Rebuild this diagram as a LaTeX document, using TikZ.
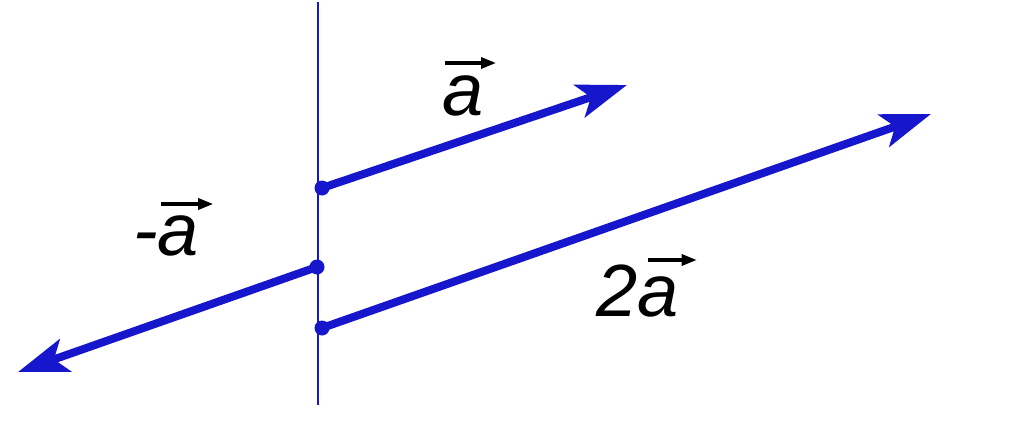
\documentclass[tikz,border=0pt]{standalone}
\usepackage{fontspec}
\setmainfont{Liberation Sans}
\usetikzlibrary{arrows.meta}
\definecolor{vblue}{RGB}{22,22,204}
\begin{document}
\begin{tikzpicture}[x=1pt,y=-1pt,
  vecline/.style={draw=vblue,line width=8pt,-{Stealth[length=50pt,width=34pt,inset=12pt]}},
  dotnode/.style={circle,fill=vblue,inner sep=0pt,minimum size=15pt},
  axisline/.style={draw=vblue,line width=1.5pt},
  lbl/.style={inner sep=0pt,anchor=base west,font=\fontsize{74}{80}\selectfont\itshape},
  overarrow/.style={draw=black,line width=3.2pt,-{Triangle[length=15pt,width=11pt]}}]
\useasboundingbox (0,0) rectangle (1024,428);
% vertical line
\coordinate (vTop) at (318,2);
\coordinate (vBot) at (318,405);
\draw[axisline] (vTop) -- (vBot);
% vector a
\node[dotnode] (aS) at (322,188) {};
\coordinate (aE) at (627,85);
\draw[vecline] (aS.center) -- (aE);
% vector 2a
\node[dotnode] (bS) at (322,328) {};
\coordinate (bE) at (931,114);
\draw[vecline] (bS.center) -- (bE);
% vector -a
\node[dotnode] (cS) at (317,267) {};
\coordinate (cE) at (18,372);
\draw[vecline] (cS.center) -- (cE);
% labels
\node[lbl] (la) at (442,115) {a};
\draw[overarrow] ([xshift=3pt,yshift=52pt]la.base west) -- ++(51,0);
\node[lbl] (lc) at (133,255) {-a};
\draw[overarrow] ([xshift=-38pt,yshift=51pt]lc.base east) -- ++(52,0);
\node[lbl] (lb) at (596,316) {2a};
\draw[overarrow] ([xshift=-31pt,yshift=56pt]lb.base east) -- ++(49,0);
\end{tikzpicture}
\end{document}
